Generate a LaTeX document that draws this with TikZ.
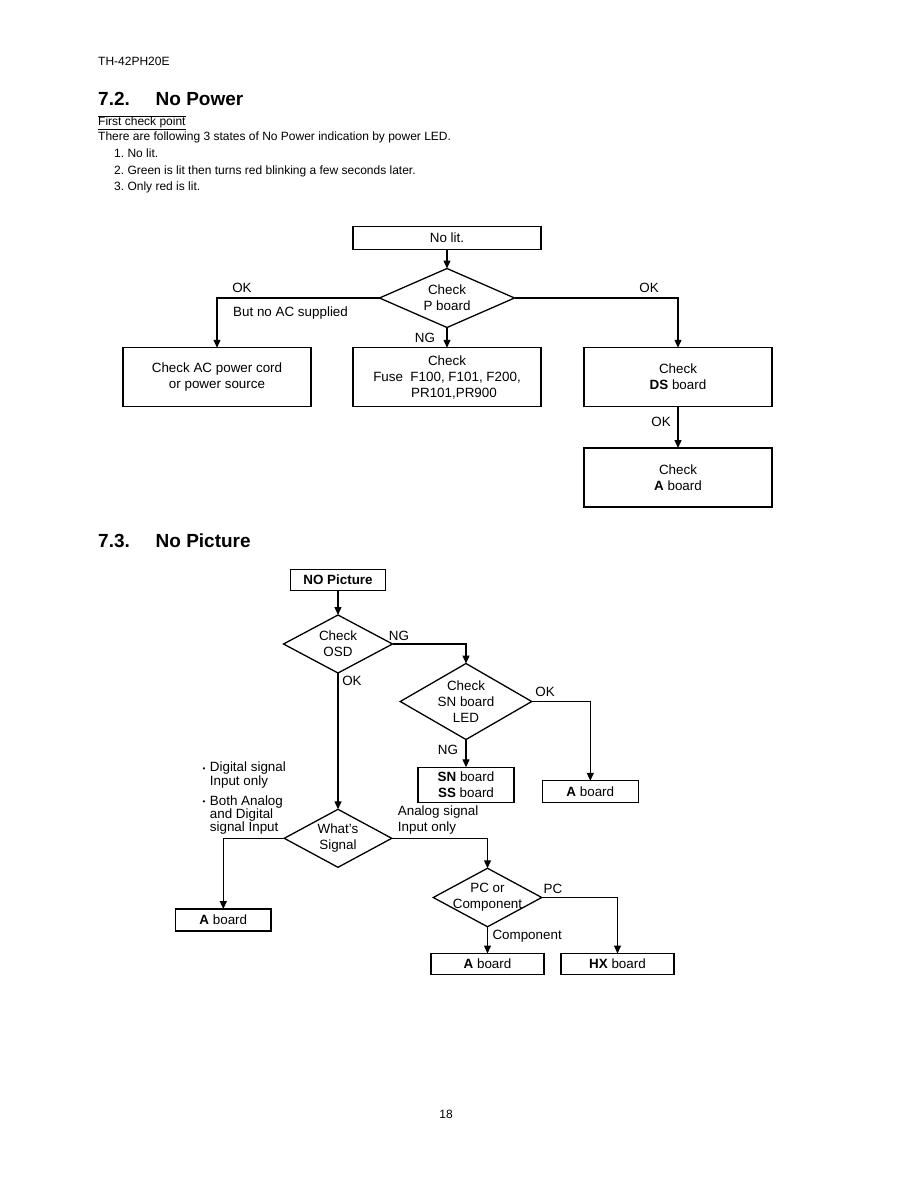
\documentclass[tikz,border=0pt]{standalone}
\usepackage{fontspec}
\setmainfont{Liberation Sans}
\usepackage{tikz}
\usetikzlibrary{shapes.geometric, arrows.meta}

\newcommand\bodyfont{\fontsize{12}{16}\selectfont}
\newcommand\chartfont{\fontsize{13.4}{16}\selectfont}
\newcommand\headfont{\fontsize{19}{22}\selectfont\bfseries}
\newcommand\dotmark{\makebox[7.2pt][l]{\raisebox{0.5pt}{\fontsize{8}{8}\selectfont•}}}

\begin{document}
\begin{tikzpicture}[x=1pt, y=-1pt, >={Triangle[length=8pt, width=7pt]},
        txt/.style={inner sep=0pt, font=\bodyfont},
        lbl/.style={inner sep=0pt, font=\chartfont, align=left},
        box/.style={rectangle, draw=black, line width=1.3pt, inner sep=0pt, outer sep=0pt, font=\chartfont, align=center, minimum width=188pt, minimum height=58.5pt},
        decision/.style={diamond, draw=black, line width=1.3pt, inner sep=-4pt, outer sep=0pt, aspect=1.7, font=\chartfont, align=center},
        arrow/.style={->, line width=1.3pt}]

        \useasboundingbox (0,0) rectangle (918,1188);

        % page text
        \node[txt, anchor=base west] (model) at (98,66) {TH-42PH20E};
        \node[txt, anchor=base west, font=\headfont] (sec72) at (98,106) {7.2.};
        \node[txt, anchor=base west, font=\headfont] (title72) at (155.5,106) {No Power};
        \draw[line width=0.9pt] (98,116) -- (186,116);
        \node[txt, anchor=base west] (first) at (98,125) {\underline{First check point}};
        \node[txt, anchor=base west] (intro) at (98,141) {There are following 3 states of No Power indication by power LED.};
        \node[txt, anchor=base west] (item1) at (114,157.5) {1.\ No lit.};
        \node[txt, anchor=base west] (item2) at (114,174) {2.\ Green is lit then turns red blinking a few seconds later.};
        \node[txt, anchor=base west] (item3) at (114,190.5) {3.\ Only red is lit.};

        % 7.2 No Power
        \node[box, minimum height=22.6pt] (nolit) at (447,238) {No lit.};
        \node[decision, minimum width=135pt, minimum height=59pt] (pboard) at (447,298) {Check\\P board};
        \node[box] (cord) at (217,377) {Check AC power cord\\or power source};
        \node[box] (fuse) at (447,377) {Check\\Fuse~~F100, F101, F200,\\\hspace*{14pt}PR101,PR900};
        \node[box] (ds) at (678,377) {Check\\\textbf{DS} board};
        \node[box, minimum height=59pt] (aboard) at (678,477.5) {Check\\\textbf{A} board};

        \draw[arrow] (nolit) -- (pboard);
        \draw[arrow] (pboard.west) -| (cord.north);
        \draw[arrow] (pboard.east) -| (ds.north);
        \draw[arrow] (pboard.south) -- (fuse.north);
        \draw[arrow] (ds) -- (aboard);

        \node[lbl] (okcord) at (242,288) {OK};
        \node[lbl, anchor=west] (noac) at (233,313) {But no AC supplied};
        \node[lbl] (okds) at (649,288) {OK};
        \node[lbl] (ngfuse) at (425,338) {NG};
        \node[lbl] (oka) at (661,422) {OK};

        % 7.3 No Picture
        \node[txt, anchor=base west, font=\headfont] (sec73) at (98,547) {7.3.};
        \node[txt, anchor=base west, font=\headfont] (title73) at (155.5,547) {No Picture};

        \node[box, minimum width=95.5pt, minimum height=21.5pt] (nopic) at (338,580) {\textbf{NO Picture}};
        \node[decision, minimum width=109pt, minimum height=58pt] (osd) at (338,644) {Check\\OSD};
        \node[decision, minimum width=131.5pt, minimum height=76pt] (sn) at (466,701.5) {Check\\SN board\\LED};
        \node[box, minimum width=96pt, minimum height=35pt] (snss) at (466,784.8) {\textbf{SN} board\\\textbf{SS} board};
        \node[box, minimum width=96pt, minimum height=21.5pt] (aright) at (590.3,791.5) {\textbf{A} board};
        \node[decision, minimum width=107.5pt, minimum height=58pt] (signal) at (338,838.3) {What's\\Signal};
        \node[box, minimum width=95.5pt, minimum height=22pt] (aleft) at (223.3,920) {\textbf{A} board};
        \node[decision, minimum width=108.5pt, minimum height=58.5pt] (pc) at (487.5,897.5) {PC or\\Component};
        \node[box, minimum width=113pt, minimum height=21pt] (abot) at (487.5,964) {\textbf{A} board};
        \node[box, minimum width=113pt, minimum height=21pt] (hx) at (617.5,964) {\textbf{HX} board};

        \draw[arrow] (nopic) -- (osd);
        \draw[arrow] (osd.east) -| (sn.north);
        \draw[arrow] (sn.east) -| (aright.north);
        \draw[arrow] (sn.south) -- (snss.north);
        \draw[arrow] (osd.south) -- (signal.north);
        \draw[arrow] (signal.west) -| (aleft.north);
        \draw[arrow] (signal.east) -| (pc.north);
        \draw[arrow] (pc.east) -| (hx.north);
        \draw[arrow] (pc.south) -- (abot.north);

        \node[lbl] (ngosd) at (399,636) {NG};
        \node[lbl] (okosd) at (352,681) {OK};
        \node[lbl] (oksn) at (545,692) {OK};
        \node[lbl] (ngsn) at (448,750) {NG};
        \node[lbl, anchor=west, font=\fontsize{13.4}{13.4}\selectfont] (digital) at (202.5,775) {\dotmark Digital signal\\\hspace*{7.2pt}Input only};
        \node[lbl, anchor=west, font=\fontsize{13.4}{13.4}\selectfont] (both) at (202.5,815) {\dotmark Both Analog\\\hspace*{7.2pt}and Digital\\\hspace*{7.2pt}signal Input};
        \node[lbl, anchor=west, font=\fontsize{13.4}{16.6}\selectfont] (analog) at (397.7,820) {Analog signal\\Input only};
        \node[lbl] (pclbl) at (553,889) {PC};
        \node[lbl, anchor=west] (complbl) at (492.3,936) {Component};

        \node[txt] (pagenum) at (446,1114) {18};
\end{tikzpicture}
\end{document}
